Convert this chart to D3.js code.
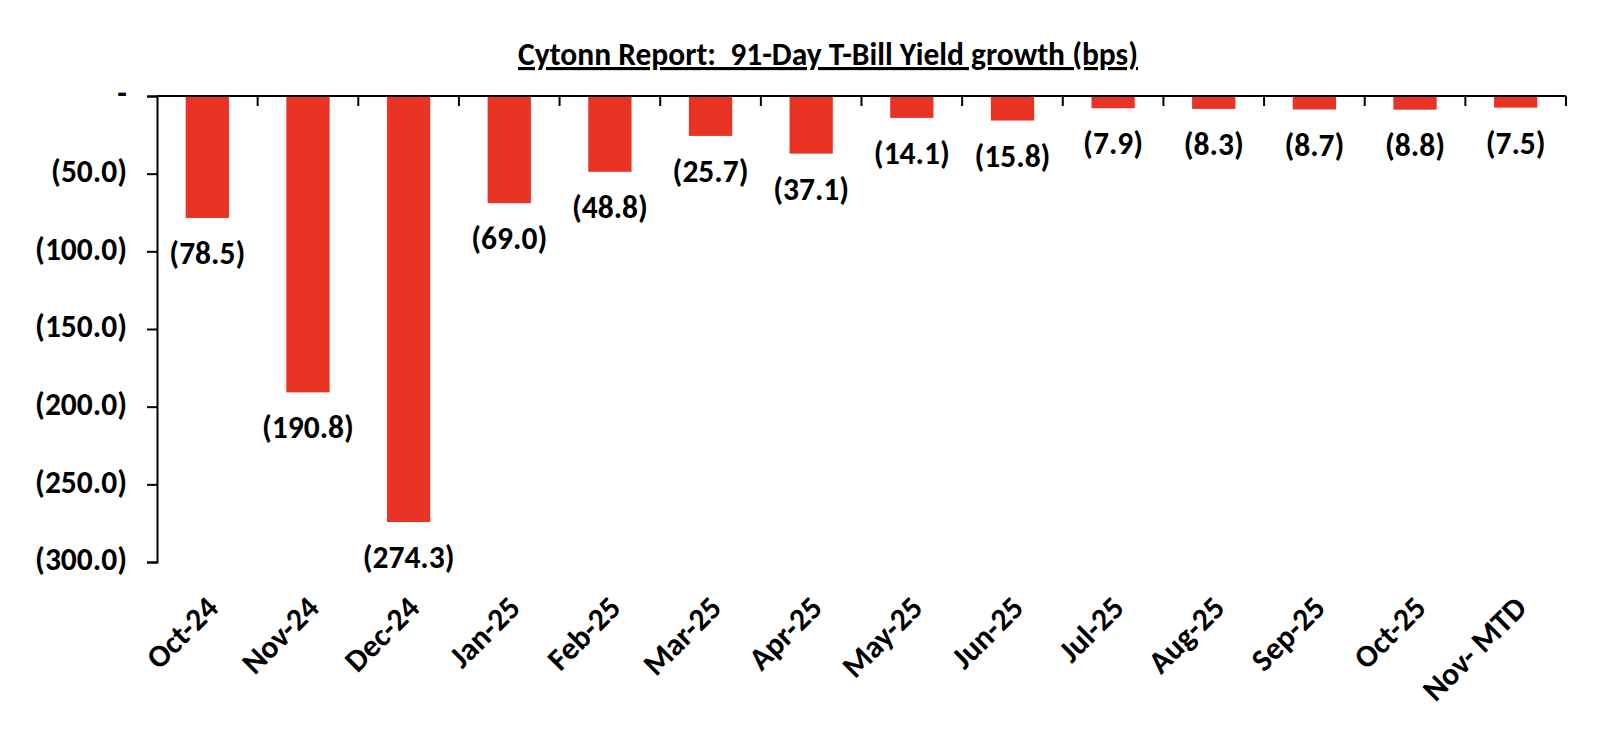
<!DOCTYPE html>
<html>
<head>
<meta charset="utf-8">
<script src="https://cdn.jsdelivr.net/npm/d3@7"></script>
<style>
  body { margin: 0; background: #fff; }
  text { font-family: Carlito, Calibri, Lato, sans-serif; font-weight: bold; fill: #000; }
</style>
</head>
<body>
<div id="chart"></div>
<script>
// months on the x axis
var categories = ["Oct-24", "Nov-24", "Dec-24", "Jan-25", "Feb-25", "Mar-25", "Apr-25",
  "May-25", "Jun-25", "Jul-25", "Aug-25", "Sep-25", "Oct-25", "Nov- MTD"];
// 91-day T-bill yield change, bps
var growth = [-78.5, -190.8, -274.3, -69.0, -48.8, -25.7, -37.1, -14.1, -15.8, -7.9, -8.3, -8.7, -8.8, -7.5];
var yTicks = [0, -50, -100, -150, -200, -250, -300];
var title = "Cytonn Report:  91-Day T-Bill Yield growth (bps)";

var W = 1602, H = 754;
var margin = {top: 96, right: 36, bottom: 192, left: 157};
var fontSize = "31.5px";

var svg = d3.select("#chart").append("svg")
  .attr("width", W)
  .attr("height", H);

var x = d3.scaleBand()
  .domain(categories)
  .range([margin.left, W - margin.right])
  .padding(0);

var y = d3.scaleLinear()
  .domain([0, -300])
  .range([margin.top, H - margin.bottom]);

// accounting style: negatives in brackets, zero as a dash
var fmt = function(v){
  if (v === 0) return "-";
  return v < 0 ? "(" + d3.format(".1f")(-v) + ")" : d3.format(".1f")(v);
};

var barW = x.bandwidth() * 0.43;

// bars
svg.append("g").selectAll("rect")
  .data(growth)
  .enter().append("rect")
  .attr("x", function(d, i){ return x(categories[i]) + (x.bandwidth() - barW) / 2; })
  .attr("y", y(0))
  .attr("width", barW)
  .attr("height", function(d){ return y(d) - y(0); })
  .attr("fill", "#E93325");

// value labels under each bar
svg.append("g").selectAll("text")
  .data(growth)
  .enter().append("text")
  .attr("x", function(d, i){ return x(categories[i]) + x.bandwidth() / 2; })
  .attr("y", function(d){ return y(d) + 46; })
  .attr("text-anchor", "middle")
  .style("font-size", fontSize)
  .text(fmt);

// y axis
var yAxis = d3.axisLeft(y)
  .tickValues(yTicks)
  .tickSize(10)
  .tickPadding(20)
  .tickFormat(fmt);

var gy = svg.append("g")
  .attr("transform", "translate(" + margin.left + ",0)")
  .call(yAxis);
gy.attr("font-family", null).attr("font-size", null);
gy.select(".domain").attr("stroke", "#000").attr("stroke-width", 2);
gy.selectAll(".tick line").attr("stroke", "#000").attr("stroke-width", 2);
gy.selectAll(".tick text").style("font-size", fontSize).attr("dy", "0.25em");

// x axis at zero line, ticks between categories
var xAxisLine = svg.append("g");
xAxisLine.append("line")
  .attr("x1", margin.left).attr("x2", W - margin.right)
  .attr("y1", y(0)).attr("y2", y(0))
  .attr("stroke", "#000").attr("stroke-width", 2);
var bounds = categories.map(function(c){ return x(c) + x.bandwidth(); });
xAxisLine.selectAll(".xt")
  .data(bounds)
  .enter().append("line")
  .attr("class", "xt")
  .attr("x1", function(d){ return d; }).attr("x2", function(d){ return d; })
  .attr("y1", y(0)).attr("y2", y(0) + 10)
  .attr("stroke", "#000").attr("stroke-width", 2);

// rotated category labels at the bottom
svg.append("g").selectAll("text")
  .data(categories)
  .enter().append("text")
  .attr("transform", function(d){
    return "translate(" + (x(d) + x.bandwidth() / 2 + 5) + "," + (H - margin.bottom + 40) + ") rotate(-45)";
  })
  .attr("text-anchor", "end")
  .attr("dominant-baseline", "central")
  .style("font-size", fontSize)
  .text(function(d){ return d; });

// title
svg.append("text")
  .attr("x", 828)
  .attr("y", 65)
  .attr("text-anchor", "middle")
  .style("font-size", fontSize)
  .style("text-decoration", "underline")
  .style("white-space", "pre")
  .text(title);
</script>
</body>
</html>
